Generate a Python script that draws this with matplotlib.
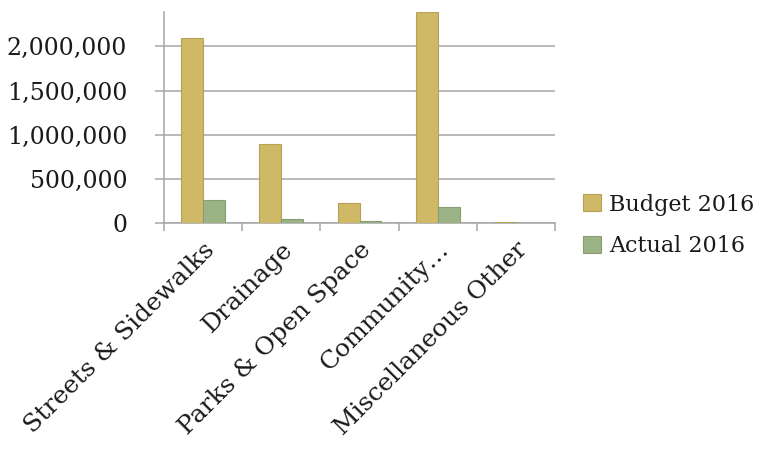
import matplotlib.pyplot as plt
import numpy as np
from matplotlib.ticker import FuncFormatter, FixedLocator

categories = ["Streets & Sidewalks", "Drainage", "Parks & Open Space",
              "Community\u2026", "Miscellaneous Other"]
budget_2016 = [2100000, 900000, 225000, 2390000, 8000]
actual_2016 = [258000, 43000, 26000, 184000, 2000]
y_ticks = [0, 500000, 1000000, 1500000, 2000000]

plt.rcParams["font.family"] = ["DejaVu Serif"]

fig = plt.figure(figsize=(7.8, 4.51), dpi=100)
ax = fig.add_axes([0.2103, 0.5055, 0.5013, 0.468])

x = np.arange(len(categories))
w = 0.28
ax.bar(x - w / 2, budget_2016, w, color="#CFB966", edgecolor="#B5A258",
       linewidth=0.8, label="Budget 2016", zorder=3)
ax.bar(x + w / 2, actual_2016, w, color="#9CB385", edgecolor="#879E72",
       linewidth=0.8, label="Actual 2016", zorder=3)

ax.set_xlim(-0.5, len(categories) - 0.5)
ax.set_ylim(0, 2390000)

ax.set_yticks(y_ticks)
ax.yaxis.set_major_formatter(FuncFormatter(lambda v, p: f"{int(v):,}"))
ax.yaxis.grid(True, color="#A6A6A6", linewidth=1.1, zorder=0)
ax.tick_params(axis="y", length=6.5, width=1.1, color="#A6A6A6", pad=20,
               labelsize=17, labelcolor="#1a1a1a")

# category boundaries carry the tick marks, labels sit at the centres
ax.xaxis.set_minor_locator(FixedLocator(np.arange(-0.5, len(categories), 1.0)))
ax.set_xticks(x)
ax.set_xticklabels(categories, rotation=45, ha="right",
                   rotation_mode="anchor", fontsize=18, color="#1a1a1a")
ax.tick_params(axis="x", which="major", length=0, pad=11)
ax.tick_params(axis="x", which="minor", length=5.5, width=1.1, color="#A6A6A6")

for side in ("top", "right"):
    ax.spines[side].set_visible(False)
for side in ("left", "bottom"):
    ax.spines[side].set_color("#A6A6A6")
    ax.spines[side].set_linewidth(1.1)
ax.set_axisbelow(True)

fig.legend(loc="center left", bbox_to_anchor=(0.722, 0.500), frameon=False,
           fontsize=16, handlelength=0.8, handleheight=0.8,
           handletextpad=0.35, labelspacing=0.9, labelcolor="#1a1a1a")

fig.savefig("out.png", dpi=100, facecolor="white")
